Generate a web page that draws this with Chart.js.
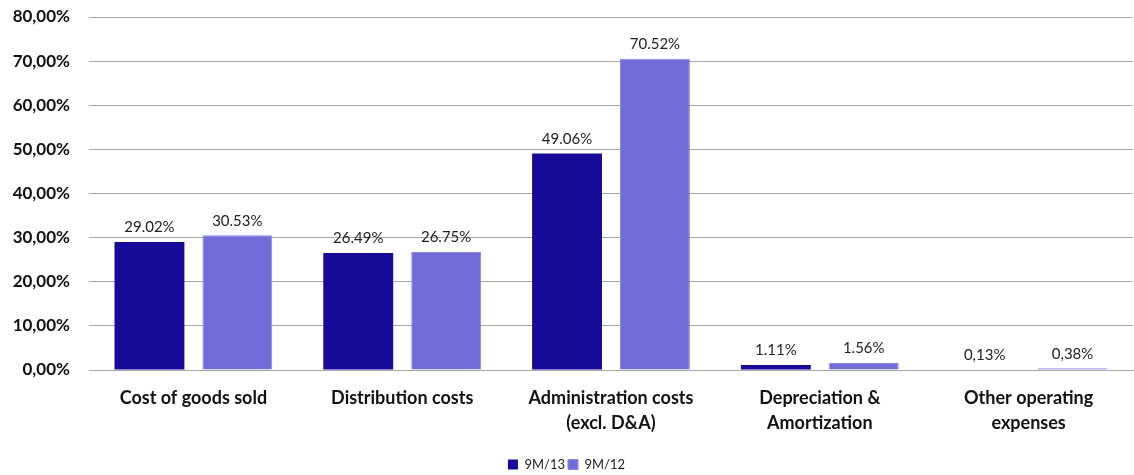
<!DOCTYPE html>
<html>
<head>
<meta charset="utf-8">
<script src="https://cdn.jsdelivr.net/npm/chart.js@4/dist/chart.umd.min.js"></script>
<style>
  html, body { margin: 0; padding: 0; background: #fff; }
  #wrap { width: 1134px; height: 475px; position: relative; }
</style>
</head>
<body>
<div id="wrap"><canvas id="costChart"></canvas></div>
<script>
// categories (multi-line labels) and the two periods
const categories = [
    ['Cost of goods sold'],
    ['Distribution costs'],
    ['Administration costs', '(excl. D&A)'],
    ['Depreciation &', 'Amortization'],
    ['Other operating', 'expenses']
];
const series9M13 = [29.02, 26.49, 49.06, 1.11, 0.13];
const series9M12 = [30.53, 26.75, 70.52, 1.56, 0.38];
// value labels as printed on the chart (mixed decimal separators in the source)
const labels9M13 = ['29.02%', '26.49%', '49.06%', '1.11%', '0,13%'];
const labels9M12 = ['30.53%', '26.75%', '70.52%', '1.56%', '0,38%'];
const yTicks = [0, 10, 20, 30, 40, 50, 60, 70, 80];

const FONT = 'Lato, "Open Sans", sans-serif';

const valueLabels = {
    id: 'valueLabels',
    beforeLayout(chart) {
        // keep the legend strip thin so it sits near the bottom edge
        const lg = chart.legend;
        if (lg && !lg._thin) {
            const fit = lg.fit;
            lg.fit = function() { fit.call(this); this.height = 20; };
            lg._thin = true;
        }
    },
    afterDatasetsDraw(chart) {
        const ctx = chart.ctx;
        const texts = [labels9M13, labels9M12];
        ctx.save();
        ctx.font = '15px ' + FONT;
        ctx.fillStyle = '#222';
        ctx.textAlign = 'center';
        ctx.textBaseline = 'bottom';
        chart.data.datasets.forEach((ds, i) => {
            chart.getDatasetMeta(i).data.forEach((bar, j) => {
                ctx.fillText(texts[i][j], bar.x, bar.y - 7);
            });
        });
        ctx.restore();
    }
};

new Chart(document.getElementById('costChart').getContext('2d'), {
    type: 'bar',
    data: {
        labels: categories,
        datasets: [
            { label: '9M/13', data: series9M13, backgroundColor: '#160a98', borderWidth: 0 },
            { label: '9M/12', data: series9M12, backgroundColor: '#706dda', borderColor: '#8a88e6', borderWidth: 1 }
        ]
    },
    options: {
        responsive: true,
        maintainAspectRatio: false,
        animation: false,
        layout: { padding: { top: 17, right: 1, left: 0, bottom: 0 } },
        categoryPercentage: 0.842,
        barPercentage: 0.795,
        plugins: {
            legend: {
                position: 'bottom',
                labels: {
                    boxWidth: 10, boxHeight: 10, padding: 3,
                    color: '#222',
                    font: { family: FONT, size: 13 }
                }
            },
            tooltip: { enabled: false }
        },
        scales: {
            x: {
                grid: { display: false, drawTicks: false },
                border: { display: true, color: '#a6a6a6', width: 1 },
                ticks: {
                    color: '#111', padding: 16,
                    font: { family: FONT, size: 18, weight: 'bold', lineHeight: 1.38 },
                    maxRotation: 0, autoSkip: false
                },
                afterFit(scale) { scale.height = 85; }
            },
            y: {
                min: 0, max: 80,
                afterBuildTicks(scale) { scale.ticks = yTicks.map(v => ({ value: v })); },
                grid: { color: '#a6a6a6', drawTicks: false, lineWidth: 1 },
                border: { display: false },
                ticks: {
                    color: '#111', padding: 19,
                    font: { family: FONT, size: 17, weight: 'bold' },
                    callback: v => v.toFixed(2).replace('.', ',') + '%'
                },
                afterFit(scale) {
                    scale.width = 89;
                    scale.paddingTop = 0;
                    scale.paddingBottom = 0;
                }
            }
        }
    },
    plugins: [valueLabels]
});
</script>
</body>
</html>
